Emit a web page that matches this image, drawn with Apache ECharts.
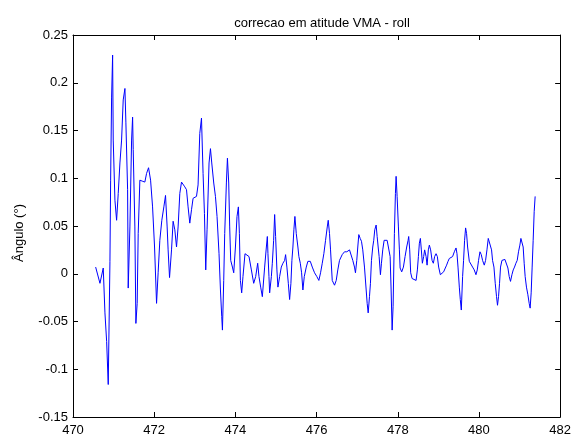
<!DOCTYPE html>
<html>
<head>
<meta charset="utf-8">
<script src="https://cdn.jsdelivr.net/npm/echarts@6/dist/echarts.min.js"></script>
<style>
  html, body { margin: 0; padding: 0; background: #fff; }
  #chart { width: 574px; height: 439px; }
</style>
</head>
<body>
<div id="chart"></div>
<script>
// Roll attitude correction (VMA): time in seconds, angle in degrees
const timeS = [
  470.558, 470.664, 470.745, 470.787, 470.829, 470.868, 470.910, 470.927, 470.951, 470.976,
  470.991, 471.033, 471.074, 471.114, 471.156, 471.197, 471.237, 471.279, 471.303, 471.345,
  471.360, 471.402, 471.443, 471.468, 471.483, 471.524, 471.549, 471.581, 471.606, 471.647,
  471.705, 471.770, 471.812, 471.861, 471.911, 471.960, 472.009, 472.058, 472.097, 472.139,
  472.188, 472.238, 472.279, 472.319, 472.343, 472.378, 472.427, 472.466, 472.508, 472.550,
  472.589, 472.631, 472.673, 472.754, 472.796, 472.835, 472.877, 472.919, 472.958, 473.042,
  473.081, 473.123, 473.165, 473.204, 473.238, 473.270, 473.302, 473.351, 473.386, 473.418,
  473.467, 473.509, 473.548, 473.597, 473.632, 473.664, 473.681, 473.713, 473.737, 473.779,
  473.804, 473.836, 473.860, 473.885, 473.927, 473.959, 474.001, 474.040, 474.074, 474.099,
  474.123, 474.155, 474.187, 474.237, 474.286, 474.335, 474.394, 474.451, 474.500, 474.549,
  474.581, 474.623, 474.664, 474.721, 474.763, 474.787, 474.802, 474.827, 474.844, 474.886,
  474.910, 474.942, 474.967, 474.991, 475.023, 475.048, 475.090, 475.131, 475.171, 475.213,
  475.237, 475.269, 475.304, 475.336, 475.368, 475.392, 475.417, 475.441, 475.466, 475.500,
  475.540, 475.564, 475.599, 475.631, 475.663, 475.697, 475.746, 475.786, 475.845, 475.894,
  475.950, 476.007, 476.056, 476.098, 476.140, 476.179, 476.221, 476.263, 476.287, 476.319,
  476.344, 476.386, 476.442, 476.484, 476.523, 476.565, 476.631, 476.688, 476.745, 476.811,
  476.853, 476.892, 476.934, 476.958, 476.990, 477.015, 477.040, 477.074, 477.106, 477.138,
  477.180, 477.222, 477.246, 477.271, 477.303, 477.327, 477.352, 477.384, 477.408, 477.433,
  477.467, 477.492, 477.517, 477.541, 477.573, 477.598, 477.630, 477.664, 477.696, 477.738,
  477.777, 477.812, 477.836, 477.861, 477.885, 477.917, 477.942, 477.959, 477.984, 478.016,
  478.040, 478.058, 478.097, 478.139, 478.180, 478.220, 478.254, 478.269, 478.294, 478.318,
  478.353, 478.402, 478.451, 478.483, 478.508, 478.532, 478.557, 478.581, 478.606, 478.638,
  478.662, 478.697, 478.722, 478.753, 478.778, 478.810, 478.845, 478.876, 478.908, 478.943,
  478.975, 479.007, 479.049, 479.090, 479.130, 479.171, 479.203, 479.238, 479.270, 479.311,
  479.351, 479.393, 479.435, 479.459, 479.484, 479.516, 479.540, 479.565, 479.597, 479.621,
  479.646, 479.671, 479.695, 479.720, 479.762, 479.803, 479.843, 479.884, 479.926, 479.958,
  479.990, 480.025, 480.057, 480.089, 480.131, 480.163, 480.197, 480.229, 480.253, 480.278,
  480.310, 480.335, 480.369, 480.401, 480.433, 480.457, 480.482, 480.507, 480.531, 480.566,
  480.598, 480.639, 480.679, 480.713, 480.745, 480.777, 480.812, 480.844, 480.876, 480.910,
  480.942, 480.974, 481.008, 481.033, 481.057, 481.089, 481.114, 481.138, 481.170, 481.205,
  481.237, 481.261, 481.286, 481.310, 481.335, 481.360, 481.384
];

const rollDeg = [
  0.007, -0.010, 0.006, -0.041, -0.071, -0.116, 0.013, 0.098, 0.185, 0.229,
  0.140, 0.077, 0.056, 0.084, 0.116, 0.140, 0.182, 0.194, 0.158, 0.088,
  -0.015, 0.049, 0.140, 0.164, 0.130, 0.049, -0.052, -0.031, 0.042, 0.098,
  0.097, 0.096, 0.105, 0.111, 0.098, 0.070, 0.028, -0.031, 0.001, 0.035,
  0.056, 0.070, 0.082, 0.049, 0.025, -0.004, 0.025, 0.055, 0.046, 0.028,
  0.049, 0.084, 0.096, 0.091, 0.088, 0.070, 0.053, 0.067, 0.079, 0.081,
  0.093, 0.147, 0.163, 0.105, 0.063, 0.004, 0.046, 0.116, 0.131, 0.116,
  0.095, 0.081, 0.060, 0.021, -0.017, -0.045, -0.059, -0.007, 0.042, 0.096,
  0.121, 0.095, 0.049, 0.014, 0.007, 0.001, 0.028, 0.060, 0.070, 0.042,
  -0.007, -0.020, -0.003, 0.021, 0.023, 0.018, 0.004, -0.010, -0.003, 0.011,
  -0.003, -0.014, -0.024, 0.007, 0.028, 0.039, 0.021, -0.003, -0.020, -0.003,
  0.011, 0.035, 0.062, 0.039, 0.004, -0.014, -0.003, 0.007, 0.011, 0.014,
  0.020, 0.007, -0.010, -0.027, -0.010, 0.014, 0.028, 0.046, 0.060, 0.042,
  0.028, 0.018, 0.011, 0.001, -0.017, -0.003, 0.007, 0.013, 0.013, 0.007,
  0.001, -0.003, -0.007, 0.001, 0.011, 0.021, 0.035, 0.049, 0.056, 0.042,
  0.025, -0.007, -0.012, -0.007, 0.004, 0.014, 0.020, 0.023, 0.023, 0.025,
  0.027, 0.014, 0.007, 0.001, 0.014, 0.028, 0.041, 0.037, 0.034, 0.025,
  0.007, -0.017, -0.031, -0.041, -0.024, -0.010, 0.014, 0.028, 0.035, 0.046,
  0.051, 0.039, 0.028, 0.018, -0.001, 0.011, 0.025, 0.035, 0.036, 0.035,
  0.034, 0.018, -0.017, -0.059, -0.034, 0.042, 0.084, 0.102, 0.081, 0.049,
  0.025, 0.006, 0.002, 0.007, 0.018, 0.028, 0.035, 0.039, 0.025, 0.001,
  -0.005, -0.007, -0.007, 0.004, 0.018, 0.032, 0.037, 0.025, 0.011, 0.018,
  0.025, 0.018, 0.009, 0.025, 0.030, 0.025, 0.014, 0.011, 0.018, 0.021,
  0.018, 0.007, -0.001, -0.001, 0.002, 0.006, 0.009, 0.013, 0.016, 0.016,
  0.018, 0.023, 0.027, 0.021, 0.007, -0.014, -0.027, -0.038, -0.003, 0.014,
  0.035, 0.048, 0.042, 0.028, 0.013, 0.011, 0.007, 0.004, -0.001, 0.004,
  0.014, 0.023, 0.020, 0.014, 0.009, 0.014, 0.025, 0.037, 0.039, 0.035,
  0.025, 0.014, 0.007, -0.010, -0.024, -0.033, -0.024, -0.010, 0.007, 0.014,
  0.014, 0.015, 0.014, 0.006, -0.003, -0.008, -0.001, 0.004, 0.007, 0.011,
  0.014, 0.023, 0.030, 0.037, 0.039, 0.028, 0.011, -0.003, -0.014, -0.022,
  -0.031, -0.036, -0.020, 0.007, 0.035, 0.065, 0.081
];

const xRange = [470, 482];
const xStep = 2;
const yRange = [-0.15, 0.25];
const yStep = 0.05;

const titleText = 'correcao em atitude VMA - roll';
const yLabelText = 'Ângulo (°)';

const FONT = 'Liberation Sans, Arial, Helvetica, sans-serif';
const INK = '#000000';

const chart = echarts.init(document.getElementById('chart'), null, { renderer: 'canvas' });

const gridBox = { left: 73, top: 35, width: 488, height: 382 };

const axisLineStyle = { lineStyle: { color: INK, width: 1 } };
const tickInside = { show: true, inside: true, length: 5, lineStyle: { color: INK, width: 1 } };

const fmtY = v => String(+v.toFixed(2));

chart.setOption({
  animation: false,
  backgroundColor: '#ffffff',
  title: {
    text: titleText,
    left: gridBox.left + gridBox.width / 2,
    textAlign: 'center',
    top: 12,
    textStyle: { fontFamily: FONT, fontSize: 13, fontWeight: 'normal', color: INK }
  },
  grid: { left: gridBox.left, top: gridBox.top, width: gridBox.width, height: gridBox.height, containLabel: false },
  // y-axis caption, rotated, sitting left of the tick labels
  graphic: [{
    type: 'text',
    x: 19,
    y: 233,
    rotation: Math.PI / 2,
    style: {
      text: yLabelText,
      fill: INK,
      font: '13px ' + FONT,
      align: 'center',
      verticalAlign: 'middle'
    }
  }],
  xAxis: [
    {
      type: 'value', position: 'bottom',
      min: xRange[0], max: xRange[1], interval: xStep,
      axisLine: { show: true, onZero: false, ...axisLineStyle },
      axisTick: tickInside,
      splitLine: { show: false },
      axisLabel: { color: INK, fontFamily: FONT, fontSize: 13, margin: 7 }
    },
    {
      type: 'value', position: 'top',
      min: xRange[0], max: xRange[1], interval: xStep,
      axisLine: { show: true, onZero: false, ...axisLineStyle },
      axisTick: tickInside,
      splitLine: { show: false },
      axisLabel: { show: false }
    }
  ],
  yAxis: [
    {
      type: 'value', position: 'left',
      min: yRange[0], max: yRange[1], interval: yStep,
      axisLine: { show: true, onZero: false, ...axisLineStyle },
      axisTick: tickInside,
      splitLine: { show: false },
      axisLabel: { color: INK, fontFamily: FONT, fontSize: 13, margin: 5, formatter: fmtY }
    },
    {
      type: 'value', position: 'right',
      min: yRange[0], max: yRange[1], interval: yStep,
      axisLine: { show: true, onZero: false, ...axisLineStyle },
      axisTick: tickInside,
      splitLine: { show: false },
      axisLabel: { show: false }
    }
  ],
  series: [{
    type: 'line',
    xAxisIndex: 0,
    yAxisIndex: 0,
    data: timeS.map((t, i) => [t, rollDeg[i]]),
    showSymbol: false,
    symbol: 'none',
    lineStyle: { color: '#0000ff', width: 1 },
    itemStyle: { color: '#0000ff' }
  }]
});
</script>
</body>
</html>
